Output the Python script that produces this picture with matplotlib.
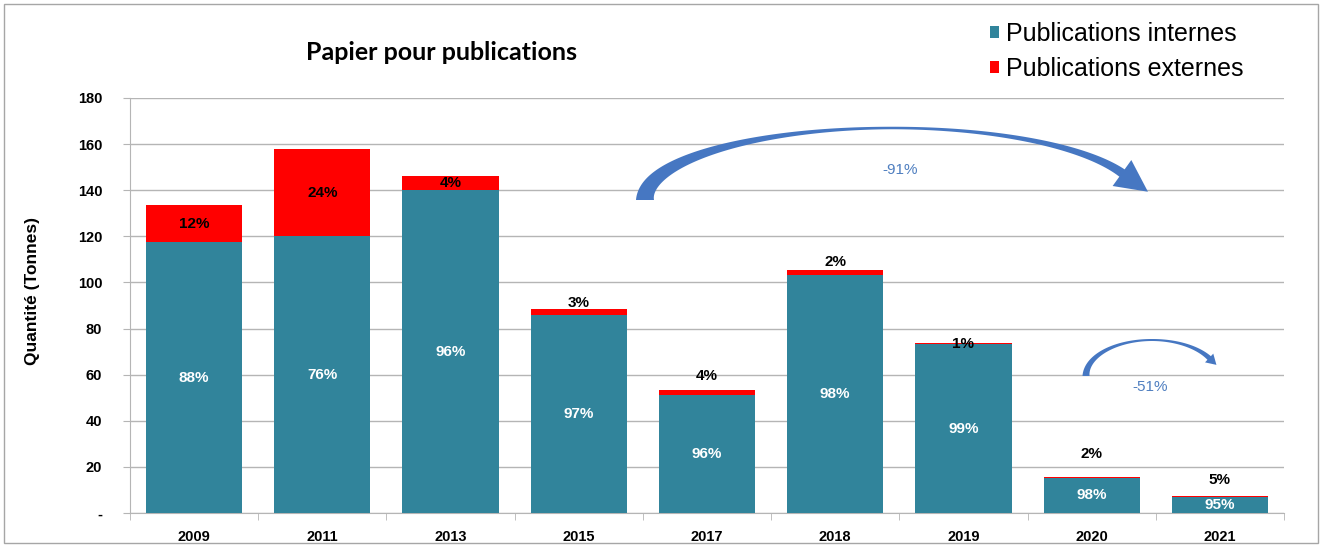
import numpy as np
import matplotlib
matplotlib.use("Agg")
import matplotlib.pyplot as plt
from matplotlib.patches import Patch, Rectangle, Polygon

# ---------------- data ----------------
years = ["2009", "2011", "2013", "2015", "2017", "2018", "2019", "2020", "2021"]
internes = [117.5, 120.0, 140.0, 86.0, 51.2, 103.3, 73.2, 15.3, 7.0]
externes = [16.0, 38.0, 6.0, 2.6, 2.2, 2.1, 0.7, 0.3, 0.4]
pct_internes = ["88%", "76%", "96%", "97%", "96%", "98%", "99%", "98%", "95%"]
pct_externes = ["12%", "24%", "4%", "3%", "4%", "2%", "1%", "2%", "5%"]
yticks = [0, 20, 40, 60, 80, 100, 120, 140, 160, 180]
title = "Papier pour publications"
ylabel = "Quantité (Tonnes)"
legend_labels = ["Publications internes", "Publications externes"]
evol_labels = ["-91%", "-51%"]

# layout: external label placement (inside segment, or offset above bar top)
ext_inside = [True, True, True, False, False, False, False, False, False]
ext_offset = [0, 0, 0, 2.5, 6.0, 3.4, -0.8, 10.0, 7.0]

C_INT = "#31849B"
C_EXT = "#FF0000"
C_ARROW = "#4677C2"
C_TXT_ARROW = "#4F7FC0"
GRID = "#B5B5B5"
FONT = "Liberation Sans"

W, H = 1322, 547
fig = plt.figure(figsize=(W / 100, H / 100), dpi=100)
ax = fig.add_axes([130 / W, 1 - 513 / H, (1284 - 130) / W, (513 - 98) / H])

x = np.arange(len(years))
bw = 0.75
ax.bar(x, internes, bw, color=C_INT, zorder=3)
ax.bar(x, externes, bw, bottom=internes, color=C_EXT, zorder=3)

ax.set_xlim(-0.5, len(years) - 0.5)
ax.set_ylim(0, 180)
ax.set_yticks(yticks)
ax.set_yticklabels(["-" if v == 0 else str(v) for v in yticks],
                   fontsize=10.5, fontweight="bold", family=FONT)
ax.set_xticks(x)
ax.set_xticklabels(years, fontsize=10.5, fontweight="bold", family=FONT)
ax.set_xticks(np.arange(-0.5, len(years)), minor=True)
ax.tick_params(axis="x", which="major", length=0, pad=12)
ax.tick_params(axis="x", which="minor", length=5, color=GRID, direction="out")
ax.tick_params(axis="y", length=5, color=GRID, direction="out", pad=15)
ax.grid(axis="y", color=GRID, linewidth=1, zorder=0)
for s in ["top", "right"]:
    ax.spines[s].set_visible(False)
for s in ["left", "bottom"]:
    ax.spines[s].set_color(GRID)
ax.set_ylabel(ylabel, fontsize=12.5, fontweight="bold", family=FONT)
ax.yaxis.set_label_coords((40 - 130) / (1284 - 130), (513 - 291) / (513 - 98))

# labels
for i in range(len(years)):
    ax.text(x[i], internes[i] / 2, pct_internes[i], ha="center", va="center",
            color="white", fontsize=11, fontweight="bold", family=FONT, zorder=5)
    top = internes[i] + externes[i]
    if ext_inside[i]:
        yy = internes[i] + externes[i] / 2
    else:
        yy = top + ext_offset[i]
    ax.text(x[i], yy, pct_externes[i], ha="center", va="center",
            color="black", fontsize=11, fontweight="bold", family=FONT, zorder=5)

# title
fig.text(441 / W, 1 - 52 / H, title, ha="center", va="center",
         fontsize=18, fontweight="bold", family="Lato")

# legend
handles = [Patch(facecolor=C_INT), Patch(facecolor=C_EXT)]
fig.legend(handles, legend_labels, loc="upper left",
           bbox_to_anchor=(990 / W, 1 - 22 / H), frameon=False,
           prop={"family": FONT, "size": 18},
           handlelength=0.36, handleheight=0.36, handletextpad=0.3,
           labelspacing=0.42, borderaxespad=0, borderpad=0)


def px(xp, yp):
    return xp / W, 1 - yp / H


def curved_arrow(x0, x1, ybase, ypeak, th_end, w_tail, w_mid, w_end, head_w, head_len):
    cx = (x0 + x1) / 2
    a = (x1 - x0) / 2
    b = ybase - ypeak
    th = np.linspace(np.pi, th_end, 200)
    cxs = cx + a * np.cos(th)
    cys = ybase - b * np.sin(th)
    tx = a * np.sin(th)
    ty = b * np.cos(th)
    n = np.hypot(tx, ty)
    tx, ty = tx / n, ty / n
    nx, ny = ty, -tx
    w = np.where(th > np.pi / 2,
                 w_mid + (w_tail - w_mid) * ((th - np.pi / 2) / (np.pi / 2)) ** 1.6,
                 w_mid + (w_end - w_mid) * ((np.pi / 2 - th) / (np.pi / 2 - th_end)) ** 1.6)
    outer = np.column_stack([cxs + nx * w / 2, cys + ny * w / 2])
    inner = np.column_stack([cxs - nx * w / 2, cys - ny * w / 2])
    ex, ey = cxs[-1], cys[-1]
    etx, ety = tx[-1], ty[-1]
    enx, eny = nx[-1], ny[-1]
    head = np.array([
        [ex + enx * head_w / 2, ey + eny * head_w / 2],
        [ex + etx * head_len, ey + ety * head_len],
        [ex - enx * head_w / 2, ey - eny * head_w / 2],
    ])
    pts = np.vstack([outer, head, inner[::-1]])
    figpts = np.array([px(p[0], p[1]) for p in pts])
    fig.add_artist(Polygon(figpts, closed=True, transform=fig.transFigure,
                           facecolor=C_ARROW, edgecolor="none", zorder=6))


curved_arrow(645, 1140, 200, 128, np.radians(22), 18, 2.5, 9, 32, 32)
curved_arrow(1086, 1218, 376, 340, np.radians(30), 7, 2, 5, 12, 10)

fig.text(900 / W, 1 - 170 / H, evol_labels[0], ha="center", va="center",
         fontsize=11, color=C_TXT_ARROW, family=FONT)
fig.text(1150 / W, 1 - 387 / H, evol_labels[1], ha="center", va="center",
         fontsize=11, color=C_TXT_ARROW, family=FONT)

# outer frame
fig.add_artist(Rectangle((4 / W, 4 / H), (W - 8) / W, (H - 8) / H, transform=fig.transFigure,
                         fill=False, edgecolor="#A6A6A6", linewidth=1))

fig.savefig("out.png", dpi=100)
